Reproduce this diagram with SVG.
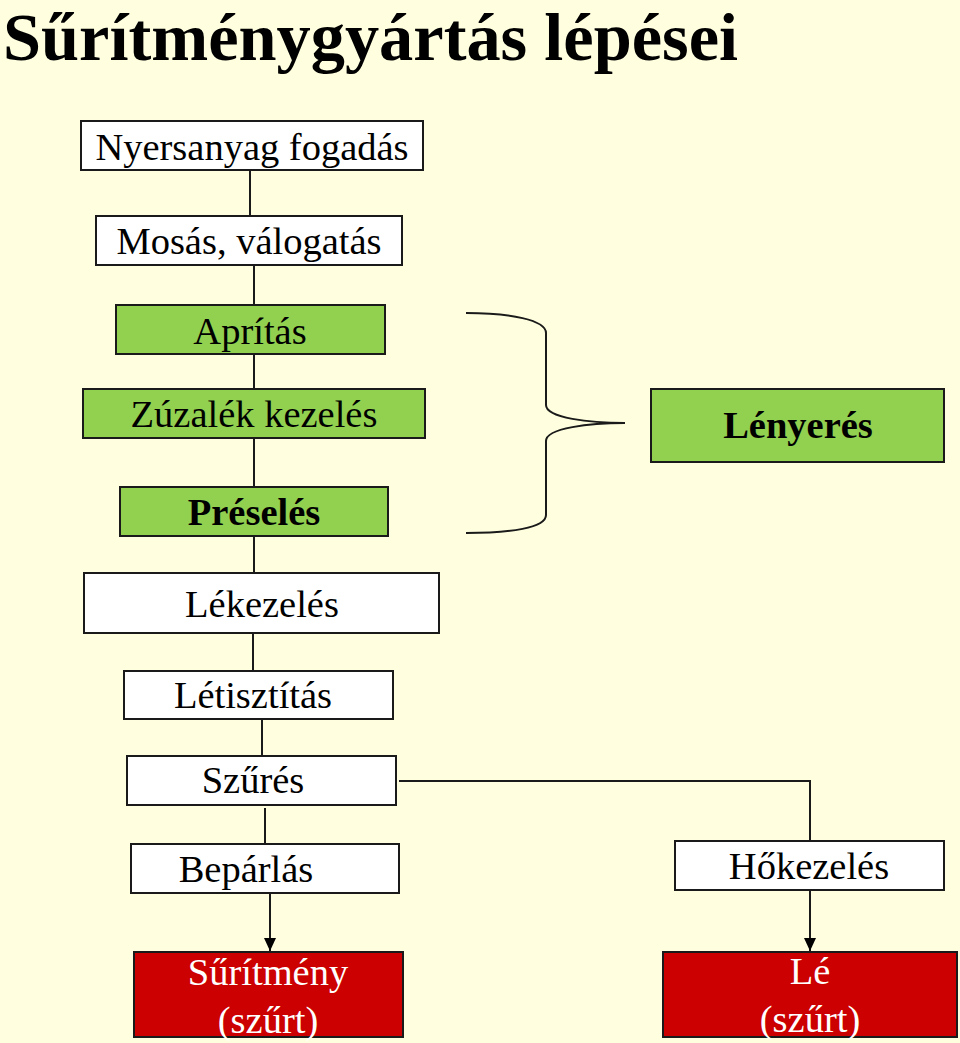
<svg xmlns="http://www.w3.org/2000/svg" width="960" height="1043" viewBox="0 0 960 1043">
  <style>
    .box { stroke: #1a1a1a; stroke-width: 2; }
    .white { fill: #ffffff; }
    .green { fill: #92d050; }
    .red { fill: #cc0000; }
    .t { font-family: "Liberation Serif", "Times New Roman", serif; font-size: 38.5px; fill: #000000; text-anchor: middle; }
    .b { font-weight: bold; }
    .w { fill: #ffffff; }
    .line { stroke: #1a1a1a; stroke-width: 2; fill: none; }
  </style>
  <defs>
    <marker id="arrow" viewBox="0 0 13 12" refX="13" refY="6" markerWidth="13" markerHeight="12" markerUnits="userSpaceOnUse" orient="auto">
      <path d="M0,0 L13,6 L0,12 Z" fill="#000000"/>
    </marker>
  </defs>
  <rect x="0" y="0" width="960" height="1043" fill="#ffffe0"/>
  <text x="3" y="60" font-family="Liberation Serif, 'Times New Roman', serif" font-size="67" font-weight="bold" fill="#000000" textLength="735" lengthAdjust="spacingAndGlyphs">Sűrítménygyártás lépései</text>

  <g id="connectors">
    <line class="line" x1="250" y1="170" x2="250" y2="216"/>
    <line class="line" x1="254" y1="265" x2="254" y2="305"/>
    <line class="line" x1="254" y1="354" x2="254" y2="389"/>
    <line class="line" x1="254" y1="438" x2="254" y2="487"/>
    <line class="line" x1="254" y1="536" x2="254" y2="573"/>
    <line class="line" x1="253" y1="633" x2="253" y2="671"/>
    <line class="line" x1="262" y1="719" x2="262" y2="756"/>
    <line class="line" x1="265" y1="808" x2="265" y2="844"/>
    <polyline class="line" points="399,781 810,781 810,841"/>
    <line class="line" x1="270" y1="891" x2="270" y2="951" marker-end="url(#arrow)"/>
    <line class="line" x1="810" y1="890" x2="810" y2="951" marker-end="url(#arrow)"/>
    <path class="line" d="M466,313 C510,313 546,320 546,333 L546,405 C546,418 590,423 625,423 C590,423 546,428 546,441 L546,515 C546,528 510,533 466,533"/>
  </g>

  <g id="node-nyersanyag">
    <rect class="box white" x="81" y="121" width="342" height="49"/>
    <text class="t" x="252" y="160">Nyersanyag fogadás</text>
  </g>
  <g id="node-mosas">
    <rect class="box white" x="96" y="216" width="306" height="49"/>
    <text class="t" x="249" y="254">Mosás, válogatás</text>
  </g>
  <g id="node-apritas">
    <rect class="box green" x="116" y="305" width="269" height="49"/>
    <text class="t" x="250" y="344">Aprítás</text>
  </g>
  <g id="node-zuzalek">
    <rect class="box green" x="83" y="389" width="342" height="49"/>
    <text class="t" x="254" y="427">Zúzalék kezelés</text>
  </g>
  <g id="node-preseles">
    <rect class="box green" x="120" y="487" width="268" height="49"/>
    <text class="t b" x="254" y="525">Préselés</text>
  </g>
  <g id="node-lenyeres">
    <rect class="box green" x="651" y="389" width="293" height="73"/>
    <text class="t b" x="798" y="438">Lényerés</text>
  </g>
  <g id="node-lekezeles">
    <rect class="box white" x="84" y="573" width="355" height="60"/>
    <text class="t" x="262" y="617">Lékezelés</text>
  </g>
  <g id="node-letisztitas">
    <rect class="box white" x="124" y="671" width="269" height="48"/>
    <text class="t" x="253" y="708">Létisztítás</text>
  </g>
  <g id="node-szures">
    <rect class="box white" x="127" y="756" width="269" height="49"/>
    <text class="t" x="253" y="793">Szűrés</text>
  </g>
  <g id="node-beparlas">
    <rect class="box white" x="131" y="844" width="268" height="49"/>
    <text class="t" x="246" y="882">Bepárlás</text>
  </g>
  <g id="node-hokezeles">
    <rect class="box white" x="675" y="841" width="269" height="49"/>
    <text class="t" x="809" y="879">Hőkezelés</text>
  </g>
  <g id="node-suritmeny">
    <rect class="box red" x="134" y="952" width="269" height="85"/>
    <text class="t w" x="268" y="985">Sűrítmény</text>
    <text class="t w" x="268" y="1033">(szűrt)</text>
  </g>
  <g id="node-le">
    <rect class="box red" x="663" y="952" width="294" height="85"/>
    <text class="t w" x="810" y="984">Lé</text>
    <text class="t w" x="810" y="1032">(szűrt)</text>
  </g>
</svg>
